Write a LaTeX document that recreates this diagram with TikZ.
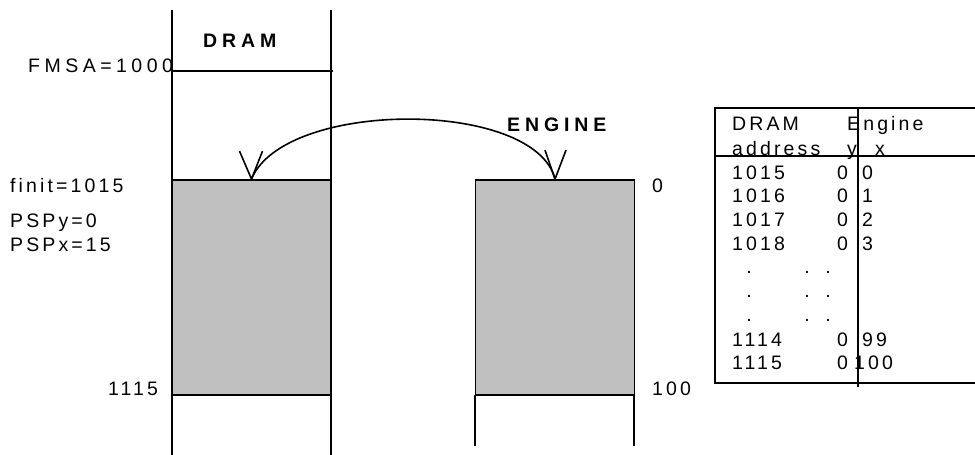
\documentclass[tikz,border=0pt]{standalone}
\usepackage{fontspec}
\usepackage{tikz}
\usetikzlibrary{positioning}

\newfontfamily\memfam[LetterSpace=16]{Liberation Sans}
\newfontfamily\widefam[LetterSpace=23]{Liberation Sans}
\newfontfamily\headfam[LetterSpace=25]{Liberation Sans Bold}
\newcommand\memfont{\memfam\fontsize{19.5}{22}\selectfont}
\newcommand\widefont{\widefam\fontsize{19.5}{22}\selectfont}
\newcommand\headfont{\headfam\fontsize{19.5}{22}\selectfont}
\definecolor{bufgray}{HTML}{C0C0C0}

\tikzset{
  lbl/.style={inner sep=0pt, anchor=base west, font=\memfont},
  hdr/.style={inner sep=0pt, anchor=base west, font=\headfont},
  buf/.style={draw, fill=bufgray, line width=1.8pt, minimum width=159pt, minimum height=215pt, inner sep=0pt},
  wall/.style={line width=1.8pt},
  vtip/.style={line width=1.6pt},
}

\begin{document}
\begin{tikzpicture}[x=1pt, y=-1pt]
\useasboundingbox (0,0) rectangle (975,455);

% DRAM column
\draw [wall] (172,10) -- (172,455);
\draw [wall] (331,10) -- (331,455);
\draw [wall] (172,71) -- (333,71);
\node [hdr] (dramttl) at (203,47) {DRAM};
\node [lbl, font=\widefont] (fmsa) at (28,72) {FMSA=1000};
\node [buf] (dbuf) at (251.5,287.5) {};
\node [lbl] (finit) at (10,192) {finit=1015};
\node [lbl] (pspy) at (10,227) {PSPy=0};
\node [lbl] (pspx) at (10,251) {PSPx=15};
\node [lbl] (dend) at (108,395) {1115};

% engine buffer
\node [buf] (ebuf) at (555,287.5) {};
\draw [wall] (475,395) -- (475,446);
\draw [wall] (634,395) -- (634,446);
\node [hdr] (engttl) at (507,131) {ENGINE};
\node [lbl] (ezero) at (652,192) {0};
\node [lbl] (eend) at (652,395) {100};

% transfer
\draw [vtip] (dbuf.north) .. controls +(33,-80) and +(-20,-80) .. (ebuf.north);
\draw [vtip] ([shift={(-12,-28)}]dbuf.north) -- (dbuf.north) -- ++(11,-28);
\draw [vtip] ([shift={(-10,-29)}]ebuf.north) -- (ebuf.north) -- ++(11,-29);

% mapping table
\draw [wall] (975,108) -- (715,108) -- (715,383) -- (975,383);
\draw [wall] (715,156) -- (975,156);
\draw [wall] (858,108) -- (858,387);
\node [lbl] (thA) at (732,130) {DRAM};
\node [lbl] (thB) at (847,130) {Engine};
\node [lbl] (thC) at (732,155) {address};
\node [lbl] (thY) at (847,155) {y};
\node [lbl] (thX) at (875,155) {x};
\foreach \addr/\yv/\xv/\yb in {1015/0/0/179, 1016/0/1/202, 1017/0/2/226, 1018/0/3/250, 1114/0/99/346}
{
  \node [lbl] (a\addr) at (732,\yb) {\addr};
  \node [lbl] (y\addr) at (837,\yb) {\yv};
  \node [lbl] (x\addr) at (862,\yb) {\xv};
}
\node [lbl] (a1115) at (732,369) {1115};
\node [lbl] (y1115) at (837,369) {0};
\node [lbl] (x1115) at (854,369) {100};
\foreach \yb [count=\i] in {273,297,321}
{
  \node [lbl, anchor=base] (dA\i) at (749,\yb) {.};
  \node [lbl, anchor=base] (dB\i) at (807,\yb) {.};
  \node [lbl, anchor=base] (dC\i) at (828,\yb) {.};
}
\end{tikzpicture}
\end{document}
